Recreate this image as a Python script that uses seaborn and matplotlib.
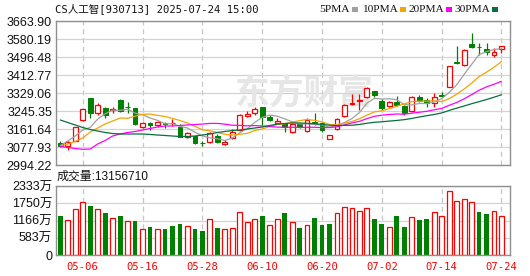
import numpy as np
import pandas as pd
import matplotlib
matplotlib.use("Agg")
import matplotlib.pyplot as plt
from matplotlib.patches import Rectangle
import seaborn as sns

# ---------------- data ----------------
dates = ["04-28", "04-29", "04-30", "05-06", "05-07", "05-08", "05-09", "05-12", "05-13", "05-14",
         "05-15", "05-16", "05-19", "05-20", "05-21", "05-22", "05-23", "05-26", "05-27", "05-28",
         "05-29", "05-30", "06-03", "06-04", "06-05", "06-06", "06-09", "06-10", "06-11", "06-12",
         "06-13", "06-16", "06-17", "06-18", "06-19", "06-20", "06-23", "06-24", "06-25", "06-26",
         "06-27", "06-30", "07-01", "07-02", "07-03", "07-04", "07-07", "07-08", "07-09", "07-10",
         "07-11", "07-14", "07-15", "07-16", "07-17", "07-18", "07-21", "07-22", "07-23", "07-24"]

opens = [3095.1, 3082.6, 3107.2, 3203.5, 3305.8, 3234.6, 3257.9, 3250.0, 3296.5, 3264.5,
         3257.9, 3172.3, 3188.1, 3178.8, 3190.9, 3187.5, 3169.6, 3125.8, 3129.1, 3098.5,
         3099.8, 3130.5, 3090.5, 3118.4, 3157.0, 3222.1, 3234.6, 3262.5, 3218.8, 3188.1,
         3188.1, 3149.1, 3183.5, 3153.7, 3195.6, 3190.9, 3115.1, 3160.2, 3223.5, 3276.5,
         3293.3, 3309.1, 3339.7, 3293.3, 3268.6, 3285.8, 3268.6, 3246.7, 3311.8, 3296.5,
         3281.2, 3319.7, 3358.4, 3471.8, 3459.3, 3555.5, 3545.0, 3532.3, 3504.4, 3535.1]
closes = [3082.6, 3102.6, 3169.6, 3253.2, 3237.4, 3274.6, 3226.7, 3256.0, 3246.7, 3263.5,
          3184.9, 3188.1, 3180.2, 3192.8, 3183.5, 3188.5, 3125.8, 3141.6, 3095.1, 3097.5,
          3144.4, 3102.6, 3102.6, 3149.1, 3225.4, 3231.4, 3253.2, 3218.8, 3203.5, 3200.2,
          3169.6, 3183.5, 3169.6, 3203.5, 3188.1, 3157.0, 3132.4, 3206.7, 3273.2, 3281.2,
          3296.5, 3350.9, 3319.8, 3257.9, 3285.8, 3274.6, 3237.4, 3311.8, 3291.8, 3284.0,
          3311.8, 3315.0, 3454.6, 3467.2, 3529.0, 3544.4, 3543.5, 3521.1, 3518.3, 3547.6]
highs = [3104.4, 3105.8, 3172.3, 3256.0, 3307.2, 3281.2, 3264.0, 3264.0, 3299.7, 3288.6,
         3260.7, 3195.6, 3194.2, 3200.2, 3195.6, 3206.7, 3183.5, 3147.7, 3129.1, 3105.8,
         3149.1, 3139.8, 3110.5, 3160.2, 3230.0, 3244.0, 3265.4, 3262.5, 3226.8, 3211.4,
         3190.9, 3188.1, 3189.5, 3211.4, 3234.6, 3195.6, 3132.4, 3211.4, 3276.5, 3324.4,
         3324.4, 3358.4, 3339.7, 3299.7, 3291.8, 3315.0, 3273.2, 3315.0, 3319.7, 3304.4,
         3327.7, 3335.1, 3456.0, 3547.6, 3532.3, 3609.5, 3563.0, 3563.0, 3538.3, 3547.6]
lows = [3076.5, 3064.0, 3105.8, 3200.2, 3211.4, 3228.2, 3211.4, 3237.4, 3242.1, 3234.6,
        3180.0, 3167.7, 3157.0, 3172.3, 3164.9, 3175.6, 3123.0, 3121.2, 3090.5, 3084.0,
        3098.0, 3095.1, 3087.2, 3115.1, 3152.3, 3216.0, 3226.8, 3180.2, 3198.8, 3183.5,
        3149.1, 3141.6, 3164.9, 3149.1, 3180.2, 3149.1, 3115.1, 3157.0, 3218.8, 3273.2,
        3250.0, 3304.4, 3311.8, 3250.0, 3265.4, 3268.6, 3226.8, 3242.1, 3287.2, 3262.5,
        3262.5, 3309.1, 3355.6, 3463.9, 3456.0, 3536.9, 3505.8, 3505.8, 3495.1, 3513.7]

# volume in 万
volumes = [1318, 1172, 1544, 1780, 1656, 1544, 1420, 1240, 1318, 1139,
           1150, 869, 947, 869, 879, 980, 1048, 970, 879, 811,
           1206, 913, 869, 902, 1443, 1105, 1206, 1318, 1004, 1206,
           1420, 1115, 913, 1004, 1251, 1014, 1048, 1420, 1612, 1578,
           1477, 1578, 1217, 1048, 936, 1318, 947, 1274, 1183, 1217,
           1443, 1308, 2153, 1815, 1883, 1781, 1454, 1396, 1477, 1315.671]
vol_red = [0, 1, 1, 1, 0, 1, 0, 1, 0, 1,
           0, 1, 0, 1, 0, 0, 0, 1, 0, 0,
           1, 0, 1, 1, 1, 1, 1, 0, 1, 1,
           0, 1, 0, 1, 0, 0, 0, 1, 1, 1,
           1, 1, 0, 0, 1, 0, 0, 1, 0, 0,
           1, 1, 1, 1, 1, 1, 0, 0, 1, 1]

# moving-average values before a full window is available
ma5_head = [3084.9, 3105.8, 3129.1, 3157.0]
ma10_head = [3082.6, 3091.9, 3103.5, 3119.8, 3147.6, 3166.3, 3184.9, 3198.8, 3212.8]
ma20_head = [3080.2, 3075.6, 3070.9, 3067.2, 3068.6, 3091.9, 3108.2, 3129.1, 3138.4, 3145.4,
             3150.0, 3157.0, 3164.0, 3171.0, 3175.6, 3175.6, 3177.9, 3180.2, 3182.5]
ma30_head = [3203.5, 3191.9, 3180.2, 3168.6, 3159.3, 3152.3, 3145.4, 3140.7, 3138.4, 3138.4,
             3138.4, 3138.4, 3136.1, 3133.7, 3131.4, 3129.1, 3126.8, 3126.8, 3129.1, 3133.7,
             3138.4, 3145.4, 3150.0, 3154.7, 3157.0, 3161.6, 3166.3, 3171.0, 3177.9]

price_ticks = [2994.22, 3077.93, 3161.64, 3245.35, 3329.06, 3412.77, 3496.48, 3580.19, 3663.90]
vol_ticks = [0, 583.25, 1166.5, 1749.75, 2333]
vol_tick_labels = ["0", "583万", "1166万", "1750万", "2333万"]
x_tick_labels = ["05-06", "05-16", "05-28", "06-10", "06-20", "07-02", "07-14", "07-24"]
ma_names = ["5PMA", "10PMA", "20PMA", "30PMA"]
title = "CS人工智[930713] 2025-07-24 15:00"
vol_title = "成交量:13156710"
watermark = "东方财富"

# ---------------- style ----------------
sns.set_style("white")
plt.rcParams["font.family"] = ["Liberation Sans", "Noto Sans CJK SC", "DejaVu Sans"]

RED = "#ff0000"
GREEN = "#008000"
ma_colors = ["#a0a0a0", "#f5a300", "#ff00ff", "#07703a"]
GRID = "#d3d3d3"
SPINE = "#8f8f8f"

W, H = 530, 276
fig = plt.figure(figsize=(W / 100, H / 100), dpi=100)
fig.patch.set_facecolor("white")
L, R = 55.5, 509.5
ax = fig.add_axes([L / W, (H - 165) / H, (R - L) / W, 144 / H])
axv = fig.add_axes([L / W, (H - 255) / H, (R - L) / W, 69 / H])

n = len(closes)
idx = np.arange(n)
xlim = (-0.64, 60.07)
tick_pos = [dates.index(d) for d in x_tick_labels]

# ---------------- price panel ----------------
o = np.array(opens); c = np.array(closes); h = np.array(highs); lo = np.array(lows)
up = c > o
ax.vlines(idx[up], lo[up], h[up], color=RED, lw=0.9, zorder=3)
ax.vlines(idx[~up], lo[~up], h[~up], color=GREEN, lw=0.9, zorder=3)
bw = 0.64
ax.bar(idx[up], (c - o)[up], bottom=o[up], width=bw, facecolor="white",
       edgecolor=RED, linewidth=0.9, zorder=4)
ax.bar(idx[~up], (c - o)[~up], bottom=o[~up], width=bw, facecolor=GREEN,
       edgecolor=GREEN, linewidth=0.7, zorder=4)

cs = pd.Series(closes)
heads = [ma5_head, ma10_head, ma20_head, ma30_head]
for win, head, col in zip([5, 10, 20, 30], heads, ma_colors):
    ma = cs.rolling(win).mean().to_numpy()
    ma[: win - 1] = head
    sns.lineplot(x=idx, y=ma, color=col, linewidth=0.9, ax=ax, zorder=5)

ax.text(0.548, 0.5, watermark, transform=ax.transAxes, ha="center", va="center",
        fontsize=25, fontweight="bold", color="#e6e6e6", zorder=1,
        family=["Noto Sans CJK SC"])

ax.set_xlim(*xlim)
ax.set_ylim(price_ticks[0], price_ticks[-1])
ax.set_yticks(price_ticks)
ax.set_yticklabels([f"{v:.2f}" for v in price_ticks], fontsize=9, color="#111111")
ax.set_xticks(tick_pos)
ax.set_xticklabels([])
ax.tick_params(length=0, pad=2.5)
ax.grid(axis="y", color=GRID, lw=0.9, ls="-", zorder=0)
ax.grid(axis="x", color="#c6c6c6", lw=0.9, ls=(0, (4, 3)), zorder=0)
ax.set_axisbelow(True)
for s in ax.spines.values():
    s.set_color(SPINE); s.set_linewidth(1.0)

# ---------------- volume panel ----------------
df = pd.DataFrame({"i": idx, "vol": volumes, "red": np.array(vol_red, dtype=bool)})
sns.barplot(data=df[df.red], x="i", y="vol", native_scale=True, color=RED, fill=False,
            width=0.64, linewidth=0.9, errorbar=None, ax=axv)
sns.barplot(data=df[~df.red], x="i", y="vol", native_scale=True, color=GREEN,
            width=0.64, linewidth=0, saturation=1, errorbar=None, ax=axv)
for p in axv.patches:
    if not p.get_fill() or np.allclose(p.get_edgecolor()[:3], (1, 0, 0)):
        p.set_fill(True)
        p.set_facecolor("white")
        p.set_edgecolor(RED)
axv.set_xlim(*xlim)
axv.set_ylim(0, vol_ticks[-1])
axv.set_yticks(vol_ticks)
axv.set_yticklabels(vol_tick_labels, fontsize=9, color="#111111")
axv.set_xticks(tick_pos)
axv.set_xticklabels(x_tick_labels, color=RED, fontsize=7.6, family=["DejaVu Sans Mono"])
axv.tick_params(length=0, pad=2.5)
axv.tick_params(axis="x", pad=5)
axv.set_xlabel(""); axv.set_ylabel("")
axv.grid(axis="y", color=GRID, lw=0.9, ls="-")
axv.grid(axis="x", color="#c6c6c6", lw=0.9, ls=(0, (4, 3)))
axv.set_axisbelow(True)
for s in axv.spines.values():
    s.set_color(SPINE); s.set_linewidth(1.0)

# ---------------- texts ----------------
fig.text(55 / W, 1 - 8.5 / H, title, fontsize=7.6, va="center", ha="left", color="#111111",
         family=["DejaVu Sans Mono", "Noto Sans CJK SC"])
fig.text(57 / W, 1 - 177 / H, vol_title, fontsize=8.6, va="center", ha="left", color="#111111",
         family=["Liberation Sans", "Noto Sans CJK SC"])
leg_box_x = [352, 400, 446, 492]
for name, bx, col in zip(ma_names, leg_box_x, ma_colors):
    fig.text((bx - 2) / W, 1 - 9 / H, name, fontsize=8.2, va="center", ha="right", color="#111111",
             family=["Liberation Serif"])
    fig.patches.append(Rectangle((bx / W, 1 - 11.5 / H), 5.5 / W, 5 / H, transform=fig.transFigure,
                                 facecolor=col, edgecolor="none"))

fig.savefig("out.png", dpi=100, facecolor="white")
